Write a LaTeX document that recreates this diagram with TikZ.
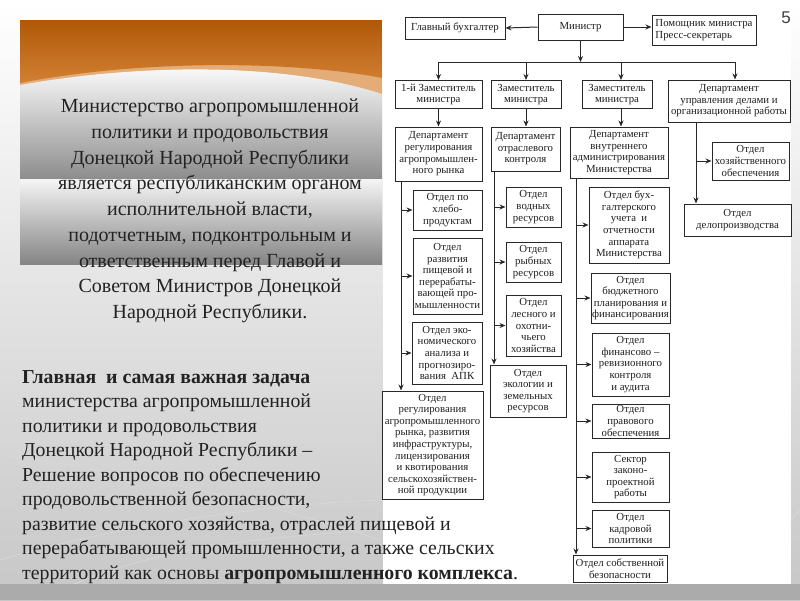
\documentclass[tikz,border=0pt]{standalone}
\usepackage{fontspec}
\setmainfont{Liberation Serif}
\newfontfamily\numfont{Liberation Sans}
\usetikzlibrary{arrows.meta}
\definecolor{orA}{RGB}{176,88,8}
\definecolor{orB}{RGB}{210,128,52}
\definecolor{peach}{RGB}{228,172,118}
\definecolor{txt}{RGB}{34,34,34}
\definecolor{chartln}{RGB}{40,40,40}
\begin{document}
\begin{tikzpicture}[x=1pt,y=-1pt,
  box/.style={draw=chartln, line width=1pt, align=center, inner sep=0pt,
    font=\fontsize{10.8}{11.6}\selectfont, text=black!88},
  arr/.style={draw=chartln, line width=1pt, -{Stealth[length=6pt,width=5pt]}},
  ln/.style={draw=chartln, line width=1pt},
  deco/.style={draw=white!70!gray, line width=0.6pt}]
\useasboundingbox (0,0) rectangle (800,600);
% background
\shade[top color=white, bottom color=black!22] (0,0) rectangle (800,600);
\draw[deco] (0,455) .. controls (120,470) and (260,500) .. (380,540);
\draw[deco] (0,560) .. controls (100,530) and (250,505) .. (380,500);
\draw[deco] (40,600) .. controls (120,560) and (200,540) .. (380,530);
\draw[deco] (791,420) .. controls (795,400) and (798,390) .. (800,385);
\draw[deco] (791,520) .. controls (795,515) and (798,512) .. (800,510);
\fill[black!33] (0,584) rectangle (800,600);
% left panel
\begin{scope}
\clip (20,20) rectangle (382,264);
\fill[peach] (20,20) rectangle (382,100);
\shade[top color=orA, bottom color=orB] (20,20) -- (382,20) -- (382,78)
  .. controls (300,62) and (150,58) .. (20,83) -- cycle;
\shade[top color=white, bottom color=black!45] (20,85)
  .. controls (150,62) and (290,64) .. (382,94) -- (382,179) -- (20,179) -- cycle;
\shade[top color=white!96!black, bottom color=black!48] (20,179) rectangle (382,264);
\end{scope}
% chart background
\fill[white] (383,4) rectangle (791,584);
% texts
\node[align=center, font=\fontsize{20}{25.7}\selectfont, text=txt, inner sep=0pt, anchor=north] (t1) at (210,99)
 {Министерство агропромышленной\\политики и продовольствия\\Донецкой Народной Республики\\является республиканским органом\\исполнительной власти,\\подотчетным, подконтрольным и\\ответственным перед Главой и\\Советом Министров Донецкой\\Народной Республики.};
\node[align=left, font=\fontsize{19.8}{24.5}\selectfont, text=txt, inner sep=0pt, anchor=north west] (t2) at (22,370)
 {\textbf{Главная\ \ и самая важная задача}\\министерства агропромышленной\\политики и продовольствия\\Донецкой Народной Республики –\\Решение вопросов по обеспечению\\продовольственной безопасности,\\развитие сельского хозяйства, отраслей пищевой и\\перерабатывающей промышленности, а также сельских\\территорий как основы \textbf{агропромышленного комплекса}.};
\node[font=\numfont\fontsize{17}{17}\selectfont, text=black!75, inner sep=0pt] (num) at (786,18) {5};
% chart boxes
\node[box, minimum width=100pt, minimum height=22pt] (gb) at (455,28) {Главный бухгалтер};
\node[box, minimum width=85pt, minimum height=26pt] (min) at (580.5,27) {Министр};
\node[box, minimum width=104pt, minimum height=30pt, align=left] (pom) at (704,30) {Помощник министра\\Пресс-секретарь};
\node[box, minimum width=87pt, minimum height=28pt] (z1) at (438.5,94.5) {1-й Заместитель\\министра};
\node[box, minimum width=70pt, minimum height=28pt] (z2) at (526,94.5) {Заместитель\\министра};
\node[box, minimum width=70pt, minimum height=28pt] (z3) at (617,94.5) {Заместитель\\министра};
\node[box, minimum width=122pt, minimum height=42pt] (du) at (729,101) {Департамент\\управления делами и\\организационной работы};
\node[box, minimum width=87pt, minimum height=54pt] (d1) at (438.5,154) {Департамент\\регулирования\\агропромышлен-\\ного рынка};
\node[box, minimum width=69pt, minimum height=44pt] (d2) at (525.5,149) {Департамент\\отраслевого\\контроля};
\node[box, minimum width=98pt, minimum height=51pt] (d3) at (619,152.5) {Департамент\\внутреннего\\администрирования\\Министерства};
\node[box, minimum width=69pt, minimum height=40pt] (o11) at (447.5,210) {Отдел по\\хлебо-\\продуктам};
\node[box, minimum width=69pt, minimum height=76pt] (o12) at (447.5,276) {Отдел\\развития\\пищевой и\\перерабаты-\\вающей про-\\мышленности};
\node[box, minimum width=70pt, minimum height=62pt] (o13) at (447,353) {Отдел эко-\\номического\\анализа и\\прогнозиро-\\вания\ \ АПК};
\node[box, minimum width=101pt, minimum height=108pt] (o14) at (432.5,445) {Отдел\\регулирования\\агропромышленного\\рынка, развития\\инфраструктуры,\\лицензирования\\и квотирования\\сельскохозяйствен-\\ной продукции};
\node[box, minimum width=55pt, minimum height=40pt] (o21) at (533.5,207) {Отдел\\водных\\ресурсов};
\node[box, minimum width=55pt, minimum height=40pt] (o22) at (533.5,262) {Отдел\\рыбных\\ресурсов};
\node[box, minimum width=55pt, minimum height=61pt] (o23) at (533.5,325.5) {Отдел\\лесного и\\охотни-\\чьего\\хозяйства};
\node[box, minimum width=76pt, minimum height=52pt] (o24) at (528,391) {Отдел\\экологии и\\земельных\\ресурсов};
\node[box, minimum width=80pt, minimum height=76pt] (o31) at (629,225) {Отдел бух-\\галтерского\\учета\ \ и\\отчетности\\аппарата\\Министерства};
\node[box, minimum width=79pt, minimum height=50pt] (o32) at (630.5,298) {Отдел\\бюджетного\\планирования и\\финансирования};
\node[box, minimum width=77pt, minimum height=63pt] (o33) at (630.5,364.5) {Отдел\\финансово –\\ревизионного\\контроля\\и аудита};
\node[box, minimum width=77pt, minimum height=34pt] (o34) at (630.5,421) {Отдел\\правового\\обеспечения};
\node[box, minimum width=77pt, minimum height=50pt] (o35) at (630.5,477) {Сектор\\законо-\\проектной\\работы};
\node[box, minimum width=77pt, minimum height=37pt] (o36) at (630.5,528.5) {Отдел\\кадровой\\политики};
\node[box, minimum width=94pt, minimum height=27pt] (o37) at (620,568.5) {Отдел собственной\\безопасности};
\node[box, minimum width=77pt, minimum height=38pt] (o41) at (750.5,161) {Отдел\\хозяйственного\\обеспечения};
\node[box, minimum width=107pt, minimum height=32pt] (o42) at (737.5,220) {Отдел\\делопроизводства};
% connectors
\draw[arr] (min.west) -- (gb.east);
\draw[arr] (min.east) -- (min.east -| pom.west);
\coordinate (bm) at (580.5,62);
\coordinate (bl) at (438.5,62);
\coordinate (br) at (735,62);
\coordinate (c3) at (621,62);
\draw[arr] (min.south) -- (bm);
\draw[ln] (bl) -- (br);
\draw[arr] (bl) -- (z1.north);
\draw[arr] (z2.north |- bl) -- (z2.north);
\draw[arr] (c3) -- (c3 |- z3.north);
\draw[arr] (br) -- (br |- du.north);
\draw[arr] (z1.south) -- (z1.south |- d1.north);
\draw[arr] (z2.south) -- (z2.south |- d2.north);
\draw[arr] (c3 |- z3.south) -- (c3 |- d3.north);
% spine 1
\coordinate (s1) at (401,181);
\draw[arr] (s1) -- (s1 |- o14.north);
\foreach \n in {o11,o12,o13} \draw[arr] (s1 |- \n.west) -- (\n.west);
% spine 2
\coordinate (s2) at (494,171);
\draw[arr] (s2) -- (s2 |- o24.north);
\foreach \n in {o21,o22,o23} \draw[arr] (s2 |- \n.west) -- (\n.west);
% spine 3
\coordinate (s3) at (576,178);
\draw[arr] (s3) -- (s3 |- o37.north);
\foreach \n in {o31,o32,o33,o34,o35,o36} \draw[arr] (s3 |- \n.west) -- (\n.west);
% spine 4
\coordinate (s4) at (696,122);
\draw[arr] (s4) -- (s4 |- o42.north);
\draw[arr] (s4 |- o41.west) -- (o41.west);
\end{tikzpicture}
\end{document}
